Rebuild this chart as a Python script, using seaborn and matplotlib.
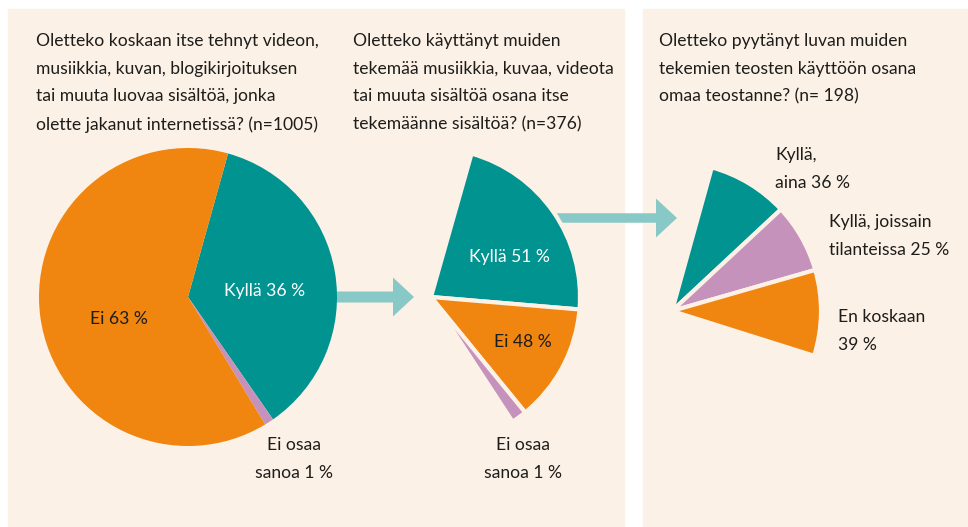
import numpy as np
import pandas as pd
import matplotlib
matplotlib.use("Agg")
import matplotlib.pyplot as plt
from matplotlib.patches import Rectangle
import seaborn as sns

sns.set_theme(style="white")
plt.rcParams['font.family'] = ['Lato', 'DejaVu Sans']

# colours
TEAL = "#00938f"
ORANGE = "#f0850f"
PURPLE = "#c592bc"
ARROW = "#88c9c7"
CREAM = "#fcf1e6"
INK = "#1d1d1b"

# questions
titles = [
    "Oletteko koskaan itse tehnyt videon,\nmusiikkia, kuvan, blogikirjoituksen\ntai muuta luovaa sisältöä, jonka\nolette jakanut internetissä? (n=1005)",
    "Oletteko käyttänyt muiden\ntekemää musiikkia, kuvaa, videota\ntai muuta sisältöä osana itse\ntekemäänne sisältöä? (n=376)",
    "Oletteko pyytänyt luvan muiden\ntekemien teosten käyttöön osana\nomaa teostanne? (n= 198)",
]

# left pie: shares in percent
left_labels = ["Kyllä 36 %", "Ei osaa\nsanoa 1 %", "Ei 63 %"]
left_share = [36, 1, 63]
left_colors = [TEAL, PURPLE, ORANGE]

# middle pie: wedge angles as drawn (degrees)
mid_labels = ["Kyllä 51 %", "Ei 48 %", "Ei osaa\nsanoa 1 %"]
mid_deg = [79, 46, 6]
mid_colors = [TEAL, ORANGE, PURPLE]

# right pie: wedge angles as drawn (degrees)
right_labels = ["Kyllä,\naina 36 %", "Kyllä, joissain\ntilanteissa 25 %", "En koskaan\n39 %"]
right_deg = [31.5, 27, 33.5]
right_colors = [TEAL, PURPLE, ORANGE]

W, H = 968, 527
fig = plt.figure(figsize=(W / 100, H / 100), dpi=100)
ax = fig.add_axes([0, 0, 1, 1])

# panel backgrounds
ax.add_patch(Rectangle((8, 0), 616, H - 9, color=CREAM, zorder=0))
ax.add_patch(Rectangle((643, 0), W - 643, H - 9, color=CREAM, zorder=0))

# arrows (behind the pies)
ax.arrow(300, H - 297, 114, 0, width=11, head_width=39, head_length=21,
         length_includes_head=True, color=ARROW, lw=0, zorder=1)
ax.arrow(520, H - 218, 157, 0, width=9.5, head_width=39, head_length=21,
         length_includes_head=True, color=ARROW, lw=0, zorder=1)

R = 149
ax.pie(left_share, colors=left_colors, startangle=74.4, counterclock=False,
       center=(188, H - 297), radius=R, frame=True,
       wedgeprops=dict(linewidth=0, zorder=2))
ax.pie(np.array(mid_deg) / 360, colors=mid_colors, startangle=74.2, counterclock=False,
       normalize=False, center=(431, H - 297), radius=R, frame=True,
       wedgeprops=dict(linewidth=3, edgecolor=CREAM, zorder=2))
ax.pie(np.array(right_deg) / 360, colors=right_colors, startangle=74.5, counterclock=False,
       normalize=False, center=(672, H - 311), radius=R, frame=True,
       wedgeprops=dict(linewidth=3, edgecolor=CREAM, zorder=2))
ax.set_xlim(0, W)
ax.set_ylim(0, H)
ax.set_aspect("equal")
ax.axis("off")

fs = 12.6
lsp = 1.9
for x, t in zip([36, 353, 659], titles):
    ax.text(x, H - 33, t, fontsize=fs, color=INK, ha="left", va="top", linespacing=lsp, zorder=5)

# slice labels
ax.text(265, H - 291, left_labels[0], fontsize=fs, color="white", ha="center", va="center", zorder=5)
ax.text(119, H - 319, left_labels[2], fontsize=fs, color=INK, ha="center", va="center", zorder=5)
ax.text(294, H - 459, left_labels[1], fontsize=fs, color=INK, ha="center", va="center", linespacing=lsp, zorder=5)

ax.text(509, H - 257, mid_labels[0], fontsize=fs, color="white", ha="center", va="center", zorder=5)
ax.text(523, H - 342, mid_labels[1], fontsize=fs, color=INK, ha="center", va="center", zorder=5)
ax.text(523, H - 459, mid_labels[2], fontsize=fs, color=INK, ha="center", va="center", linespacing=lsp, zorder=5)

ax.text(775, H - 169, right_labels[0], fontsize=fs, color=INK, ha="left", va="center", linespacing=lsp, zorder=5)
ax.text(829, H - 236, right_labels[1], fontsize=fs, color=INK, ha="left", va="center", linespacing=lsp, zorder=5)
ax.text(838, H - 331, right_labels[2], fontsize=fs, color=INK, ha="left", va="center", linespacing=lsp, zorder=5)

fig.savefig("out.png", dpi=100, facecolor="white")
